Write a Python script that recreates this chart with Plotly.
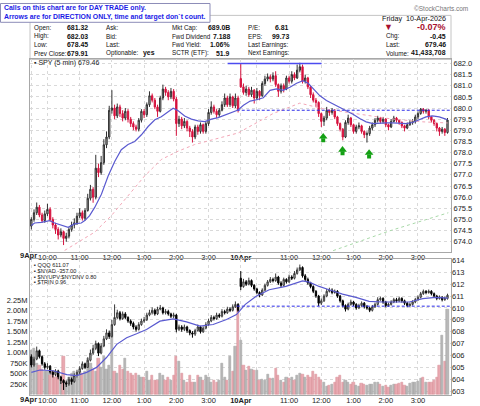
import plotly.graph_objects as go

W, H = 480, 406

# ---------------- data ----------------
spy_day_open = [674.70, 681.32]
spy_close_d1 = [675.00, 675.30, 675.55, 675.20, 674.95, 675.25, 675.45, 675.00, 674.75, 674.55,
                674.30, 674.45, 674.15, 674.25, 674.55, 674.75, 674.85, 675.15, 675.30, 675.05,
                675.40, 675.95, 676.35, 676.00, 677.30, 677.10, 677.55, 678.35, 678.70, 679.90,
                680.00, 679.65, 680.05, 679.75, 679.55, 679.85, 679.50, 679.30, 679.15, 679.05,
                679.45, 679.85, 679.70, 680.15, 680.55, 680.35, 680.05, 679.85, 680.45, 680.85,
                680.70, 680.50, 680.75, 680.40, 679.30, 679.50, 679.20, 679.40, 679.10, 678.95,
                678.70, 679.15, 678.95, 679.25, 678.95, 679.30, 679.80, 680.05, 679.85, 679.70,
                679.90, 680.15, 680.45, 680.15, 680.50, 680.10, 680.45, 679.91]
spy_high_d1 = [675.10, 675.45, 675.76, 675.65, 675.30, 675.40, 675.70, 675.55, 675.10, 674.85,
               674.65, 674.60, 674.50, 674.40, 674.65, 674.90, 675.05, 675.30, 675.50, 675.40,
               675.50, 676.15, 676.55, 676.45, 677.90, 677.50, 677.85, 678.60, 678.95, 680.10,
               680.80, 680.15, 680.20, 680.15, 679.90, 680.00, 679.95, 679.60, 679.40, 679.25,
               679.55, 679.95, 679.95, 680.25, 680.75, 680.65, 680.45, 680.15, 680.55, 681.05,
               680.95, 680.80, 680.90, 680.85, 680.50, 679.65, 679.60, 679.55, 679.45, 679.20,
               679.05, 679.25, 679.25, 679.35, 679.30, 679.40, 679.95, 680.30, 680.15, 679.95,
               680.00, 680.30, 680.65, 680.55, 680.65, 680.55, 680.65, 680.55]
spy_low_d1 = [674.55, 674.90, 675.20, 675.10, 674.85, 674.85, 675.15, 674.90, 674.60, 674.35,
              674.10, 674.20, 673.85, 674.00, 674.15, 674.45, 674.60, 674.75, 675.05, 674.95,
              674.95, 675.35, 675.85, 675.75, 675.90, 676.90, 677.00, 677.45, 678.20, 678.60,
              679.75, 679.50, 679.55, 679.60, 679.40, 679.45, 679.35, 679.15, 679.00, 678.95,
              678.95, 679.35, 679.55, 679.60, 680.05, 680.25, 679.95, 679.60, 679.80, 680.35,
              680.55, 680.35, 680.40, 680.30, 678.75, 679.15, 679.05, 679.10, 678.95, 678.70,
              678.45, 678.60, 678.80, 678.85, 678.85, 678.85, 679.20, 679.70, 679.75, 679.55,
              679.60, 679.85, 680.05, 680.05, 680.05, 680.00, 680.00, 679.80]
spy_close_d2 = [680.95, 680.70, 680.85, 680.60, 680.80, 680.45, 680.75, 680.55, 681.10, 681.30,
                681.40, 681.30, 681.45, 681.05, 680.75, 681.00, 680.85, 681.35, 681.20, 681.50,
                681.35, 681.70, 681.85, 681.20, 681.35, 680.95, 680.60, 680.35, 680.25, 679.75,
                679.40, 679.55, 679.90, 679.80, 679.90, 679.60, 679.30, 679.05, 678.70, 679.35,
                679.55, 679.25, 678.95, 679.15, 679.20, 678.95, 678.80, 678.85, 679.10, 679.25,
                679.45, 679.55, 679.40, 679.50, 679.25, 679.15, 679.40, 679.55, 679.45, 679.35,
                679.20, 679.10, 679.25, 679.35, 679.40, 679.60, 679.75, 679.95, 679.85, 679.90,
                679.60, 679.45, 679.30, 679.10, 678.95, 679.05, 678.90, 679.46]
spy_high_d2 = [682.00, 681.10, 681.00, 680.95, 680.95, 680.85, 680.90, 680.80, 681.20, 681.45,
               681.55, 681.50, 681.60, 681.65, 681.10, 681.10, 681.10, 681.45, 681.45, 681.65,
               681.60, 681.95, 682.03, 681.95, 681.50, 681.40, 681.00, 680.70, 680.45, 680.30,
               679.80, 679.65, 680.05, 679.95, 680.00, 679.95, 679.65, 679.35, 679.10, 679.45,
               679.70, 679.60, 679.30, 679.25, 679.35, 679.25, 679.00, 678.95, 679.20, 679.35,
               679.55, 679.65, 679.60, 679.60, 679.55, 679.30, 679.50, 679.65, 679.60, 679.50,
               679.40, 679.25, 679.35, 679.45, 679.50, 679.70, 679.85, 680.00, 680.00, 679.95,
               679.95, 679.65, 679.50, 679.35, 679.15, 679.15, 679.10, 679.55]
spy_low_d2 = [680.90, 680.60, 680.55, 680.50, 680.50, 680.20, 680.35, 680.35, 680.50, 681.00,
              681.20, 681.15, 681.20, 680.95, 680.50, 680.65, 680.70, 680.80, 681.10, 681.10,
              681.25, 681.30, 681.60, 681.10, 681.10, 680.85, 680.45, 680.25, 680.05, 679.60,
              679.15, 679.20, 679.45, 679.65, 679.70, 679.50, 679.20, 678.95, 678.55, 678.65,
              679.25, 679.15, 678.85, 678.85, 679.05, 678.85, 678.65, 678.45, 678.75, 679.00,
              679.15, 679.35, 679.30, 679.30, 679.15, 679.00, 679.10, 679.35, 679.35, 679.25,
              679.10, 678.95, 679.05, 679.20, 679.25, 679.30, 679.50, 679.70, 679.75, 679.75,
              679.50, 679.35, 679.20, 678.95, 678.75, 678.85, 678.75, 678.85]

qqq_day_open = [605.90, 612.50]
qqq_close_d1 = [605.20, 605.70, 606.40, 605.90, 605.30, 605.00, 605.10, 604.60, 604.40, 604.70,
                604.20, 603.90, 603.70, 603.60, 604.00, 603.80, 604.30, 604.60, 604.90, 605.30,
                605.00, 605.60, 606.20, 606.60, 607.00, 606.20, 606.80, 607.40, 607.90, 607.60,
                608.60, 609.20, 609.60, 609.10, 609.50, 609.20, 608.90, 608.70, 608.40, 608.20,
                608.60, 608.90, 609.00, 609.40, 609.60, 609.80, 609.50, 609.90, 610.00, 609.60,
                609.70, 609.50, 609.30, 609.40, 608.20, 608.40, 608.20, 608.40, 608.10, 607.90,
                607.80, 608.10, 608.40, 608.00, 608.30, 608.60, 608.90, 609.20, 609.10, 609.40,
                609.30, 609.70, 609.60, 609.90, 609.80, 610.10, 610.30, 609.80]
qqq_high_d1 = [606.10, 605.90, 606.75, 606.50, 606.00, 605.45, 605.35, 605.20, 604.75, 604.85,
               604.80, 604.30, 604.00, 603.90, 604.20, 604.15, 604.50, 604.80, 605.10, 605.50,
               605.40, 605.85, 606.50, 606.90, 607.25, 607.10, 607.05, 607.65, 608.20, 608.10,
               609.00, 610.30, 609.85, 609.75, 609.70, 609.65, 609.30, 609.05, 608.85, 608.55,
               608.80, 609.10, 609.25, 609.60, 609.85, 610.05, 609.95, 610.10, 610.25, 610.10,
               609.90, 609.85, 609.60, 609.60, 609.50, 608.60, 608.55, 608.60, 608.50, 608.20,
               608.05, 608.25, 608.60, 608.50, 608.45, 608.80, 609.10, 609.40, 609.35, 609.60,
               609.55, 609.90, 609.85, 610.10, 610.05, 610.30, 610.55, 610.40]
qqq_low_d1 = [605.00, 605.05, 605.60, 605.75, 605.15, 604.80, 604.85, 604.40, 604.15, 604.25,
              604.00, 603.60, 603.10, 603.35, 603.45, 603.55, 603.70, 604.15, 604.45, 604.80,
              604.85, 604.95, 605.50, 606.05, 606.45, 605.95, 606.10, 606.70, 607.30, 607.40,
              607.50, 608.50, 609.05, 608.95, 609.00, 609.05, 608.75, 608.50, 608.20, 608.00,
              608.10, 608.50, 608.75, 608.90, 609.30, 609.45, 609.35, 609.40, 609.80, 609.45,
              609.45, 609.35, 609.15, 609.15, 607.95, 608.05, 608.00, 608.05, 607.90, 607.70,
              607.50, 607.65, 608.00, 607.85, 607.90, 608.20, 608.50, 608.80, 608.95, 609.00,
              609.15, 609.20, 609.45, 609.50, 609.65, 609.70, 610.00, 609.65]
qqq_close_d2 = [611.80, 612.20, 612.00, 612.30, 611.90, 611.60, 611.30, 611.10, 611.50, 611.90,
                612.20, 612.40, 612.30, 612.60, 612.10, 611.90, 612.40, 612.20, 612.60, 612.50,
                612.90, 613.20, 613.40, 612.70, 612.40, 612.10, 611.80, 611.40, 611.00, 610.40,
                610.60, 611.00, 611.40, 611.50, 611.30, 611.40, 611.00, 610.60, 610.20, 609.90,
                610.30, 610.50, 610.30, 610.00, 610.20, 610.40, 610.10, 610.00, 609.80, 610.10,
                610.30, 610.70, 610.80, 610.50, 610.20, 610.30, 610.50, 610.70, 610.60, 610.80,
                610.60, 610.40, 610.20, 610.30, 610.50, 610.70, 610.90, 611.20, 611.40, 611.30,
                611.40, 611.20, 611.00, 610.80, 610.90, 610.70, 610.80, 611.07]
qqq_high_d2 = [613.10, 612.45, 612.35, 612.55, 612.40, 612.00, 611.70, 611.40, 611.65, 612.05,
               612.35, 612.60, 612.55, 612.90, 612.70, 612.25, 612.55, 612.50, 612.80, 612.75,
               613.10, 613.40, 613.65, 613.50, 612.85, 612.55, 612.20, 611.90, 611.50, 611.10,
               610.80, 611.15, 611.60, 611.70, 611.65, 611.55, 611.50, 611.10, 610.70, 610.30,
               610.45, 610.70, 610.60, 610.40, 610.35, 610.55, 610.50, 610.25, 610.10, 610.25,
               610.45, 610.90, 610.95, 610.90, 610.60, 610.45, 610.65, 610.85, 610.85, 610.95,
               610.90, 610.70, 610.50, 610.45, 610.65, 610.85, 611.05, 611.35, 611.55, 611.50,
               611.55, 611.50, 611.30, 611.10, 611.05, 611.00, 610.95, 611.20]
qqq_low_d2 = [611.50, 611.70, 611.85, 611.90, 611.75, 611.45, 611.15, 610.90, 611.00, 611.40,
              611.80, 612.10, 612.15, 612.20, 611.95, 611.75, 611.80, 612.05, 612.10, 612.35,
              612.40, 612.80, 613.10, 612.55, 612.25, 611.95, 611.65, 611.25, 610.85, 610.15,
              610.25, 610.50, 610.90, 611.30, 611.15, 611.20, 610.85, 610.45, 610.05, 609.70,
              609.80, 610.20, 610.15, 609.85, 609.90, 610.10, 609.95, 609.85, 609.65, 609.70,
              610.00, 610.20, 610.60, 610.35, 610.05, 610.10, 610.20, 610.40, 610.45, 610.50,
              610.45, 610.25, 610.05, 610.10, 610.20, 610.40, 610.60, 610.80, 611.10, 611.15,
              611.20, 611.05, 610.85, 610.65, 610.70, 610.55, 610.60, 610.70]

# SPY volume in millions of shares
vol_d1 = [1.05, 1.10, 0.75, 0.70, 0.60, 0.55, 0.55, 0.45, 0.55, 0.40,
          0.45, 0.35, 0.90, 0.30, 0.40, 0.50, 0.55, 0.40, 0.55, 0.50,
          0.55, 0.85, 0.75, 0.60, 0.55, 0.85, 0.65, 0.90, 0.60, 0.70,
          1.50, 0.55, 0.50, 0.70, 0.60, 0.85, 0.55, 0.50, 0.45, 0.50,
          0.45, 0.40, 0.40, 0.55, 0.35, 0.45, 0.35, 0.35, 0.50, 0.45,
          0.35, 0.40, 0.35, 0.45, 0.90, 0.80, 0.50, 0.35, 0.30, 0.45,
          0.30, 0.30, 0.45, 0.40, 0.35, 0.45, 0.40, 0.30, 0.35, 0.30,
          0.35, 0.75, 0.40, 0.35, 0.90, 0.55, 1.15, 2.10]
vol_d2 = [1.30, 0.70, 0.58, 0.68, 0.60, 0.58, 0.58, 0.35, 0.36, 0.35,
          0.48, 0.38, 0.38, 0.62, 0.45, 0.35, 0.30, 0.42, 0.38, 0.40,
          0.35, 0.45, 0.50, 0.48, 0.40, 0.45, 0.40, 0.55, 0.48, 0.40,
          0.35, 0.30, 0.20, 0.22, 0.25, 0.28, 0.40, 0.45, 0.30, 0.35,
          0.30, 0.25, 0.30, 0.22, 0.20, 0.26, 0.25, 0.22, 0.24, 0.25,
          0.28, 0.28, 0.25, 0.20, 0.22, 0.18, 0.22, 0.25, 0.24, 0.26,
          0.28, 0.22, 0.20, 0.26, 0.30, 0.28, 0.32, 0.38, 0.40, 0.30,
          0.28, 0.30, 0.34, 0.40, 0.70, 1.40, 0.80, 2.03]

# moving averages (bar index, value)
spy_ma_k = [0, 1.2, 3.7, 6.8, 8.7, 11.2, 13.7, 16.1, 18.6, 19.9, 21.7, 23.6, 26.1, 28.6, 31.1, 33.5,
            36.0, 38.5, 41.0, 43.5, 46.0, 48.4, 50.9, 52.8, 54.7, 57.1, 59.6, 62.1, 64.6, 67.1, 69.6,
            72.0, 74.5, 77.0, 79.0, 81.5, 83.9, 86.4, 88.9, 91.3, 93.8, 96.3, 98.8, 101.2, 103.1,
            105.0, 107.4, 109.9, 112.4, 114.8, 117.3, 119.8, 122.3, 124.7, 127.2, 129.7, 132.1,
            134.6, 137.1, 139.6, 142.0, 144.5, 147.0, 149.4, 151.9, 154.4, 155.0]
spy_ma_v = [674.73, 674.84, 674.87, 674.95, 674.84, 674.73, 674.65, 674.80, 674.84, 674.95, 675.17,
            675.54, 676.13, 676.95, 677.61, 678.13, 678.36, 678.50, 678.80, 679.17, 679.47, 679.61,
            679.84, 679.99, 679.88, 679.64, 679.50, 679.42, 679.39, 679.50, 679.57, 679.69, 679.79,
            679.91, 680.12, 680.31, 680.37, 680.46, 680.79, 680.86, 680.79, 680.93, 681.11, 681.23,
            681.11, 680.86, 680.56, 680.34, 680.19, 680.04, 679.90, 679.72, 679.53, 679.38, 679.30,
            679.33, 679.33, 679.33, 679.33, 679.30, 679.35, 679.48, 679.60, 679.65, 679.60, 679.50,
            679.48]
spy_ma2_k = [12.4, 23.6, 29.8, 36.0, 42.2, 48.4, 54.6, 60.8, 68.3, 77.0, 90.0, 100.0, 108.6, 121.3,
             133.5, 145.8, 155.0]
spy_ma2_v = [673.61, 674.43, 675.17, 676.06, 676.95, 677.69, 678.06, 678.36, 678.61, 678.88, 679.75,
             680.22, 679.97, 679.75, 679.52, 679.38, 679.33]
spy_ma3_k = [112.4, 133.5, 155.3]
spy_ma3_v = [673.60, 674.49, 675.30]
qqq_ma_k = [0, 3.2, 8.2, 13.2, 16.9, 20.6, 24.3, 28.0, 31.8, 35.5, 39.2, 42.9, 47.9, 52.9, 57.8, 62.8,
            67.7, 72.7, 76.4, 79.7, 83.6, 88.6, 94.8, 101.0, 103.5, 107.2, 110.9, 115.9, 120.9, 125.8,
            130.8, 135.8, 140.8, 145.8, 150.7, 155.1]
qqq_ma_v = [604.58, 604.78, 604.72, 604.39, 604.31, 604.58, 605.00, 605.83, 606.94, 607.50, 607.83,
            608.19, 608.89, 609.08, 608.83, 608.47, 608.61, 609.03, 609.44, 610.30, 610.97, 611.53,
            611.81, 612.28, 612.17, 611.81, 611.53, 611.17, 610.89, 610.56, 610.50, 610.47, 610.50,
            610.78, 610.89, 610.83]

# drawn trend lines / annotations
resist_k = [73.1, 108.1]
resist_level = 682.0
spy_support_k = [76.5, 156.3]
spy_support_level = 679.9
qqq_support_k = [76.5, 156.3]
qqq_support_level = 610.15
arrow_k = [108.7, 115.9, 125.8]
arrow_tip = [678.86, 678.27, 678.13]

tick_k = [0, 6, 18, 30, 42, 54, 66, 78, 84, 96, 108, 120, 132, 144]
tick_txt = ['', '10:00', '11:00', '12:00', '1:00', '2:00', '3:00', '<b>10Apr</b>', '',
            '11:00', '12:00', '1:00', '2:00', '3:00']
first_day_label = '9Apr'
vol_tick = [0.25, 0.5, 0.75, 1.0, 1.25, 1.5, 1.75, 2.0, 2.25]
vol_tick_txt = ['250K', '500K', '750K', '1.00M', '1.25M', '1.50M', '1.75M', '2.00M', '2.25M']

# ---------------- assemble ----------------
spy_close = spy_close_d1 + spy_close_d2
spy_high = spy_high_d1 + spy_high_d2
spy_low = spy_low_d1 + spy_low_d2
spy_open = [spy_day_open[0]] + spy_close_d1[:-1] + [spy_day_open[1]] + spy_close_d2[:-1]
qqq_close = qqq_close_d1 + qqq_close_d2
qqq_high = qqq_high_d1 + qqq_high_d2
qqq_low = qqq_low_d1 + qqq_low_d2
qqq_open = [qqq_day_open[0]] + qqq_close_d1[:-1] + [qqq_day_open[1]] + qqq_close_d2[:-1]
vol = vol_d1 + vol_d2
k = list(range(len(spy_close)))

prev = [spy_open[0]] + spy_close[:-1]
vol_col = ['#e9a9b1' if c < p else '#b9b9b9' for c, p in zip(spy_close, prev)]
vol_line = ['#d48892' if c < p else '#9a9a9a' for c, p in zip(spy_close, prev)]

# pixel geometry
PX0, PX1 = 30, 451
SPY_T, SPY_B = 57, 251
LOW_T, LOW_B = 259, 396
SPY_RANGE = [673.56, 682.18]
QQQ_RANGE = [602.67, 614.08]
VOL_RANGE = [-0.01, 3.215]
X_RANGE = [-0.5, 156.3]


def px(x):
    return x / W


def py(y):
    return 1 - y / H


FONT = 'Liberation Sans, Arial, sans-serif'
fig = go.Figure()

# SPY panel
fig.add_trace(go.Scatter(x=spy_ma2_k, y=spy_ma2_v, mode='lines',
                         line=dict(color='#f2a6b6', width=1, dash='dot'), xaxis='x', yaxis='y'))
fig.add_trace(go.Scatter(x=spy_ma3_k, y=spy_ma3_v, mode='lines',
                         line=dict(color='#a8d8a8', width=1, dash='dot'), xaxis='x', yaxis='y'))
fig.add_trace(go.Scatter(x=spy_support_k, y=[spy_support_level] * 2, mode='lines',
                         line=dict(color='#2a2ae8', width=1, dash='3px,2px'), xaxis='x', yaxis='y'))
fig.add_trace(go.Scatter(x=spy_ma_k, y=spy_ma_v, mode='lines',
                         line=dict(color='#5a5ad0', width=1.2), xaxis='x', yaxis='y'))
fig.add_trace(go.Candlestick(x=k, open=spy_open, high=spy_high, low=spy_low, close=spy_close,
                             increasing=dict(line=dict(color='#303030', width=1), fillcolor='#b8b8b8'),
                             decreasing=dict(line=dict(color='#d6123e', width=1), fillcolor='#d6123e'),
                             whiskerwidth=0, xaxis='x', yaxis='y'))
fig.add_trace(go.Scatter(x=resist_k, y=[resist_level] * 2, mode='lines',
                         line=dict(color='#4b4bf0', width=1.5), xaxis='x', yaxis='y'))
upp = (SPY_RANGE[1] - SPY_RANGE[0]) / (SPY_B - SPY_T)
fig.add_trace(go.Scatter(x=arrow_k, y=[t - 6.8 * upp for t in arrow_tip], mode='markers',
                         marker=dict(symbol='square', size=4, color='#14a014', line=dict(width=0)),
                         xaxis='x', yaxis='y'))
fig.add_trace(go.Scatter(x=arrow_k, y=[t - 3.3 * upp for t in arrow_tip], mode='markers',
                         marker=dict(symbol='triangle-up', size=7.5, color='#14a014', line=dict(width=0)),
                         xaxis='x', yaxis='y'))

# lower panel
fig.add_trace(go.Bar(x=k, y=vol, width=0.82, marker=dict(color=vol_col, line=dict(color=vol_line, width=0.5)),
                     xaxis='x2', yaxis='y2'))
fig.add_trace(go.Scatter(x=qqq_support_k, y=[qqq_support_level] * 2, mode='lines',
                         line=dict(color='#2a2ae8', width=1, dash='3px,2px'), xaxis='x2', yaxis='y3'))
fig.add_trace(go.Scatter(x=qqq_ma_k, y=qqq_ma_v, mode='lines',
                         line=dict(color='#5a5ad0', width=1.2), xaxis='x2', yaxis='y3'))
fig.add_trace(go.Candlestick(x=k, open=qqq_open, high=qqq_high, low=qqq_low, close=qqq_close,
                             increasing=dict(line=dict(color='#3a3a3a', width=1), fillcolor='#d8d8d8'),
                             decreasing=dict(line=dict(color='#000000', width=1), fillcolor='#000000'),
                             whiskerwidth=0, xaxis='x2', yaxis='y3'))

tickfont = dict(family=FONT, size=7.5, color='#222')
grid = dict(showgrid=True, gridcolor='#d9d9d9', griddash='dot', gridwidth=1)
xcommon = dict(domain=[px(PX0), px(PX1)], range=X_RANGE, tickmode='array', tickvals=tick_k,
               ticktext=tick_txt, ticks='', tickangle=0, tickfont=tickfont, showline=True, mirror=True,
               linecolor='#a8a8a8', linewidth=1, zeroline=False, rangeslider=dict(visible=False),
               fixedrange=True, ticklabelstandoff=-2, **grid)

fig.update_layout(
    width=W, height=H, margin=dict(l=0, r=0, t=0, b=0),
    paper_bgcolor='white', plot_bgcolor='white', showlegend=False, bargap=0,
    xaxis=dict(anchor='y', **xcommon),
    xaxis2=dict(anchor='y2', **xcommon),
    yaxis=dict(domain=[py(SPY_B), py(SPY_T)], range=SPY_RANGE, side='right', tick0=674, dtick=0.5,
               tickformat='.1f', ticks='', tickfont=tickfont, showline=True, mirror=True,
               linecolor='#a8a8a8', zeroline=False, anchor='x', **grid),
    yaxis2=dict(domain=[py(LOW_B), py(LOW_T)], range=VOL_RANGE, side='left', tickmode='array',
                tickvals=vol_tick, ticktext=vol_tick_txt, ticks='', tickfont=tickfont,
                showline=True, mirror=True, linecolor='#a8a8a8', zeroline=False, showgrid=False,
                anchor='x2'),
    yaxis3=dict(range=QQQ_RANGE, overlaying='y2', side='right', anchor='x2', dtick=1, tick0=603,
                ticks='', tickfont=tickfont, zeroline=False, **grid),
)

ann = []


def text(x, y, s, size=7, color='#111', xanchor='left', bold=False, yanchor='middle'):
    if bold:
        s = '<b>' + s + '</b>'
    ann.append(dict(x=px(x), y=py(y), xref='paper', yref='paper', text=s, showarrow=False,
                    xanchor=xanchor, yanchor=yanchor, align=xanchor,
                    font=dict(family=FONT, size=size, color=color)))


# info panel frame
shapes = [
    dict(type='rect', xref='paper', yref='paper', x0=px(PX0), x1=px(PX1), y0=py(SPY_T), y1=py(12.5),
         line=dict(color='#c4c4c4', width=1), fillcolor='white', layer='below'),
    dict(type='rect', xref='paper', yref='paper', x0=px(0.5), x1=px(210), y0=py(19.5), y1=py(0.5),
         line=dict(color='#8c8cb8', width=1), fillcolor='white'),
]

# note box
text(2, 5.5, 'Calls on this chart are for DAY TRADE only.', size=6.9, color='#1a1ae6', bold=True)
text(2, 14, 'Arrows are for DIRECTION ONLY, time and target don`t count.', size=6.9, color='#1a1ae6', bold=True)

text(470, 6, '©StockCharts.com', size=6.5, color='#777', xanchor='right')
text(448, 16, 'Friday  10-Apr-2026', size=7.2, xanchor='right')
text(388, 24.5, '▼', size=9, color='#a8102e', xanchor='center')
text(448, 24.5, '-0.07%', size=9, color='#a8102e', xanchor='right', bold=True)

rows = [25, 33.6, 42.4, 51]
col1 = [('Open:', '681.32'), ('High:', '682.03'), ('Low:', '678.45'), ('Prev Close:', '679.91')]
col2 = ['Ask:', 'Bid:', 'Last:', 'Optionable:']
col3 = [('Mkt Cap:', '689.0B'), ('Fwd Dividend', '7.188'), ('Fwd Yield:', '1.06%'), ('SCTR (ETF):', '51.9')]
col4 = [('P/E:', '6.81'), ('EPS:', '99.73'), ('Last Earnings:', ''), ('Next Earnings:', '')]
col5 = [('', ''), ('Chg:', '-0.45'), ('Last:', '679.46'), ('Volume:', '41,433,708')]
LBL, VAL = 6.3, 6.9
for y, (l, v) in zip(rows, col1):
    text(32, y, l, size=LBL)
    text(90, y, v, size=VAL, xanchor='right', bold=True)
for y, l in zip(rows, col2):
    text(104, y, l, size=LBL)
text(157, rows[3], 'yes', size=VAL, xanchor='right', bold=True)
for y, (l, v) in zip(rows, col3):
    text(170, y, l, size=LBL)
    text(232, y, v, size=VAL, xanchor='right', bold=True)
for y, (l, v) in zip(rows, col4):
    text(246, y, l, size=LBL)
    if v:
        text(291, y, v, size=VAL, xanchor='right', bold=True)
for y, (l, v) in zip(rows, col5):
    if l:
        text(384, y, l, size=LBL)
        text(448, y, v, size=VAL, xanchor='right', bold=True)

text(32, 60.8, '▪ SPY (5 min) 679.46', size=7, color='#222')
legend_low = ['▪ QQQ 611.07', '▪ $NYAD -357.00', '▪ $NYUPV:$NYDNV 0.80', '▪ $TRIN 0.96']
for i, s in enumerate(legend_low):
    text(32, 264.5 + 5.9 * i, s, size=5.6, color='#222')

# first-day date labels on both time axes
text(38.5, SPY_B + 4, first_day_label, size=7.5, color='#222', xanchor='right', bold=True)
text(38.5, LOW_B + 4.5, first_day_label, size=7.5, color='#222', xanchor='right', bold=True)

fig.update_layout(annotations=ann, shapes=shapes)
fig.write_html('out.html')
